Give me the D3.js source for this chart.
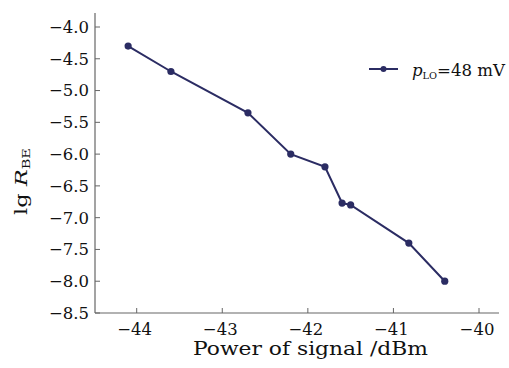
<!DOCTYPE html>
<html><head><meta charset="utf-8">
<script src="https://cdn.jsdelivr.net/npm/d3@7"></script>
<style>body{margin:0;background:#fff}svg text{font-family:"DejaVu Serif",serif;fill:#111}</style>
</head><body>
<svg id="c" width="509" height="368"></svg>
<script>
const powerDbm = [-44.1, -43.6, -42.7, -42.2, -41.8, -41.6, -41.5, -40.82, -40.4];
const lgRBE = [-4.3, -4.7, -5.35, -6.0, -6.2, -6.77, -6.8, -7.4, -8.0];
const xTicks = [-44, -43, -42, -41, -40];
const yTicks = [-4.0, -4.5, -5.0, -5.5, -6.0, -6.5, -7.0, -7.5, -8.0, -8.5];
const seriesColor = "#2b2c63";

const svg = d3.select("#c");
const x = d3.scaleLinear().domain([-44, -40]).range([136.7, 479]);
const y = d3.scaleLinear().domain([-4.0, -8.5]).range([27, 313]);
const x0 = 95, yB = 313;
const axisColor = "#666";
const fmtMinus = s => s.replace("-", "\u2212");

// axis lines
svg.append("line").attr("x1", x0).attr("x2", x0).attr("y1", 13).attr("y2", yB).attr("stroke", axisColor).attr("stroke-width", 1.2);
svg.append("line").attr("x1", x0).attr("x2", 499).attr("y1", yB).attr("y2", yB).attr("stroke", axisColor).attr("stroke-width", 1.2);

// y ticks
const yg = svg.append("g");
yTicks.forEach(t => {
  yg.append("line").attr("x1", x0).attr("x2", x0 + 5).attr("y1", y(t)).attr("y2", y(t)).attr("stroke", axisColor);
  yg.append("text").attr("x", 89).attr("y", y(t)).attr("dy", "0.36em").attr("text-anchor", "end")
    .attr("font-size", 16.5).text(fmtMinus(d3.format(".1f")(t)));
});
// x ticks
const xg = svg.append("g");
xTicks.forEach(t => {
  xg.append("line").attr("x1", x(t)).attr("x2", x(t)).attr("y1", yB).attr("y2", yB - 5).attr("stroke", axisColor);
  xg.append("text").attr("x", x(t) - 2).attr("y", 335).attr("text-anchor", "middle")
    .attr("font-size", 16.5).text(fmtMinus(String(t)));
});

// titles
svg.append("text").attr("x", 193).attr("y", 355).attr("font-size", 18)
  .attr("textLength", 235).attr("lengthAdjust", "spacingAndGlyphs")
  .text("Power of signal /dBm");
const yt = svg.append("text").attr("transform", "translate(27,215) rotate(-90)").attr("font-size", 17)
  .attr("textLength", 67).attr("lengthAdjust", "spacingAndGlyphs");
yt.append("tspan").text("lg ");
yt.append("tspan").attr("font-style", "italic").text("R");
yt.append("tspan").attr("font-size", 11).attr("dy", 3).text("BE");

// line
const line = d3.line().x((d, i) => x(powerDbm[i])).y(d => y(d));
svg.append("path").datum(lgRBE).attr("d", line).attr("fill", "none").attr("stroke", seriesColor).attr("stroke-width", 2);
svg.selectAll("circle.pt").data(lgRBE).join("circle").attr("class", "pt")
  .attr("cx", (d, i) => x(powerDbm[i])).attr("cy", d => y(d)).attr("r", 3.6).attr("fill", seriesColor);

// legend
const lg = svg.append("g");
lg.append("line").attr("x1", 369).attr("x2", 398).attr("y1", 69).attr("y2", 69).attr("stroke", seriesColor).attr("stroke-width", 2);
lg.append("circle").attr("cx", 383.5).attr("cy", 69).attr("r", 3).attr("fill", seriesColor);
const lt = lg.append("text").attr("x", 412).attr("y", 76).attr("font-size", 17)
  .attr("textLength", 93).attr("lengthAdjust", "spacingAndGlyphs");
lt.append("tspan").attr("font-style", "italic").text("p");
lt.append("tspan").attr("font-size", 10).attr("dy", 3).text("LO");
lt.append("tspan").attr("dy", -3).text("=48 mV");
</script>
</body></html>
